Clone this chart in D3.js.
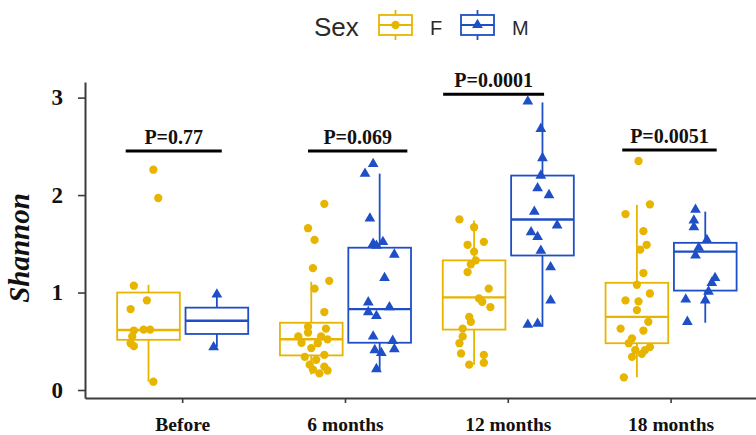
<!DOCTYPE html>
<html>
<head>
<meta charset="utf-8">
<script src="https://cdn.jsdelivr.net/npm/d3@7"></script>
<style>
  html, body { margin: 0; padding: 0; background: #fff; }
  svg { display: block; }
</style>
</head>
<body>
<svg id="chart" width="756" height="435"></svg>
<script>
// Time points along the x axis
const timepoints = ["Before", "6 months", "12 months", "18 months"];
const sexes = ["F", "M"];

// Box summaries per time point: [lower whisker, Q1, median, Q3, upper whisker]
const boxF = [
  [0.085, 0.515, 0.615, 1.00, 1.08],
  [0.16, 0.355, 0.52, 0.69, 1.11],
  [0.26, 0.62, 0.95, 1.33, 1.74],
  [0.13, 0.48, 0.75, 1.10, 1.90]
];
const boxM = [
  [0.44, 0.575, 0.71, 0.845, 0.98],
  [0.20, 0.485, 0.83, 1.46, 2.22],
  [0.65, 1.38, 1.75, 2.20, 2.95],
  [0.69, 1.02, 1.42, 1.51, 1.83]
];

// Individual Shannon values as [value, jitter (fraction of a category step)]
const pointsF = [
  [[2.26, 0.03], [1.97, 0.06], [1.07, -0.09], [0.92, -0.01], [0.83, -0.11],
   [0.61, -0.09], [0.62, -0.03], [0.62, 0.01], [0.55, -0.10], [0.48, -0.11],
   [0.45, -0.09], [0.085, 0.03]],
  [[1.91, 0.08], [1.66, -0.02], [1.54, 0.02], [1.25, 0.01], [1.12, 0.11],
   [1.04, 0.02], [0.80, 0.08], [0.65, -0.02], [0.63, 0.09], [0.59, -0.02],
   [0.55, -0.08], [0.55, 0.06], [0.52, 0.10], [0.485, -0.06], [0.48, 0.04],
   [0.43, 0.00], [0.36, 0.08], [0.34, -0.04], [0.31, 0.03], [0.26, -0.01],
   [0.24, 0.08], [0.21, 0.01], [0.20, 0.10], [0.17, 0.05]],
  [[1.75, -0.09], [1.67, 0.00], [1.52, 0.06], [1.49, -0.04], [1.42, 0.00],
   [1.33, 0.01], [1.29, -0.02], [1.21, -0.04], [1.04, 0.09], [0.94, 0.03],
   [0.905, 0.05], [0.85, 0.10], [0.75, -0.03], [0.70, -0.02], [0.63, -0.07],
   [0.55, -0.07], [0.48, -0.09], [0.375, -0.08], [0.36, 0.06], [0.28, 0.06],
   [0.26, -0.03]],
  [[2.35, 0.01], [1.905, 0.08], [1.805, -0.07], [1.63, 0.04], [1.49, 0.06],
   [1.44, 0.02], [1.20, 0.04], [1.08, 0.00], [0.99, 0.08], [0.92, -0.07],
   [0.91, 0.01], [0.82, 0.00], [0.70, 0.07], [0.63, -0.10], [0.61, 0.04],
   [0.53, -0.03], [0.48, -0.05], [0.44, 0.08], [0.41, -0.01], [0.41, 0.05],
   [0.37, 0.03], [0.34, -0.03], [0.13, -0.08]]
];
const pointsM = [
  [[0.98, 0.00], [0.44, -0.02]],
  [[2.32, -0.04], [2.22, -0.09], [1.76, -0.06], [1.50, -0.04], [1.52, 0.02],
   [1.48, -0.02], [1.39, 0.09], [1.15, 0.03], [0.90, -0.07], [0.80, -0.07],
   [0.76, -0.02], [0.85, 0.06], [0.55, -0.04], [0.505, 0.08], [0.42, 0.09],
   [0.41, -0.03], [0.38, 0.01], [0.215, -0.02]],
  [[2.96, -0.09], [2.68, -0.01], [2.38, 0.00], [2.20, -0.01], [2.07, -0.03],
   [2.00, 0.04], [1.83, -0.05], [1.69, 0.09], [1.62, -0.07], [1.57, -0.03],
   [1.43, -0.01], [1.26, 0.05], [0.92, 0.05], [0.67, -0.09], [0.68, -0.03]],
  [[1.85, -0.06], [1.74, -0.07], [1.67, -0.07], [1.54, 0.01], [1.46, -0.04],
   [1.38, -0.06], [1.15, 0.06], [1.10, 0.04], [1.01, 0.02], [0.92, 0.00],
   [0.93, -0.12], [0.70, -0.11]]
];

// Comparison labels: p-value text, segment ends (category units, 1-based) and height
const pLabels = ["P=0.77", "P=0.069", "P=0.0001", "P=0.0051"];
const pStart = [0.65, 1.77, 2.60, 3.70];
const pEnd = [1.24, 2.38, 3.22, 4.28];
const pHeight = [2.452, 2.452, 3.034, 2.462];

const yTicks = [0, 1, 2, 3];

const colF = "#E7B500";
const colM = "#1F4FC6";
const serif = "'Liberation Serif', 'Times New Roman', serif";
const sans = "'Liberation Sans', Arial, sans-serif";

const svg = d3.select("#chart");
svg.append("rect").attr("width", 756).attr("height", 435).attr("fill", "#fff");

const plotLeft = 85, plotBottom = 398, plotTop = 82;
const x = d3.scaleBand().domain(timepoints)
  .range([plotLeft, plotLeft + 4.2 * 162.8]).paddingInner(0).paddingOuter(0.1);
const step = x.step();
const xc = d => x(d) + x.bandwidth() / 2;
const xCat = u => x(timepoints[0]) + x.bandwidth() / 2 + (u - 1) * step;
const y = d3.scaleLinear().domain([-0.082, 3.16]).range([plotBottom, plotTop]);

const dodge = 0.21 * step;
const boxW = 0.385 * step;
const circleSize = 54, triSize = 50;

// Boxes, whiskers and points per sex
function drawGroup(boxes, points, color, sign, isTri) {
  const g = svg.append("g");
  timepoints.forEach((t, i) => {
    const cx = xc(t) + sign * dodge;
    const [lo, q1, med, q3, hi] = boxes[i];
    const gg = g.append("g").attr("stroke", color).attr("fill", "none");
    gg.append("line").attr("x1", cx).attr("x2", cx).attr("y1", y(q3)).attr("y2", y(hi)).attr("stroke-width", 1.8);
    gg.append("line").attr("x1", cx).attr("x2", cx).attr("y1", y(q1)).attr("y2", y(lo)).attr("stroke-width", 1.8);
    gg.append("rect").attr("x", cx - boxW / 2).attr("y", y(q3))
      .attr("width", boxW).attr("height", y(q1) - y(q3)).attr("stroke-width", 1.8);
    gg.append("line").attr("x1", cx - boxW / 2).attr("x2", cx + boxW / 2)
      .attr("y1", y(med)).attr("y2", y(med)).attr("stroke-width", 2.4);
  });
  timepoints.forEach((t, i) => {
    const cx = xc(t) + sign * dodge;
    const sym = d3.symbol().type(isTri ? d3.symbolTriangle : d3.symbolCircle).size(isTri ? triSize : circleSize);
    g.selectAll(null).data(points[i]).enter().append("path")
      .attr("d", sym)
      .attr("transform", d => `translate(${cx + d[1] * step},${y(d[0])})`)
      .attr("fill", color);
  });
}
drawGroup(boxF, pointsF, colF, -1, false);
drawGroup(boxM, pointsM, colM, 1, true);

// Axes
const yAxis = svg.append("g").attr("transform", `translate(${plotLeft},0)`)
  .call(d3.axisLeft(y).tickValues(yTicks).tickFormat(d3.format("d")).tickSize(7).tickSizeOuter(0).tickPadding(15));
const xAxis = svg.append("g").attr("transform", `translate(0,${plotBottom})`)
  .call(d3.axisBottom(x).tickSize(5).tickSizeOuter(0).tickPadding(14));
[yAxis, xAxis].forEach(a => {
  a.select(".domain").attr("stroke", "#3c3c3c").attr("stroke-width", 2);
  a.selectAll(".tick line").attr("stroke", "#3c3c3c").attr("stroke-width", 1.6);
  a.selectAll("text").attr("fill", "#111").attr("font-family", serif).attr("font-weight", "bold");
});
yAxis.selectAll("text").attr("font-size", 23);
xAxis.selectAll("text").attr("font-size", 19.5);

svg.append("text")
  .attr("transform", "translate(29,248) rotate(-90)")
  .attr("text-anchor", "middle")
  .attr("font-family", serif).attr("font-weight", "bold").attr("font-style", "italic")
  .attr("font-size", 29).attr("fill", "#111")
  .text("Shannon");

// P-value annotations
timepoints.forEach((t, i) => {
  const x1 = xCat(pStart[i]), x2 = xCat(pEnd[i]);
  svg.append("line").attr("x1", x1).attr("x2", x2)
    .attr("y1", y(pHeight[i])).attr("y2", y(pHeight[i]))
    .attr("stroke", "#000").attr("stroke-width", 3);
  svg.append("text").attr("x", (x1 + x2) / 2).attr("y", y(pHeight[i]) - 7)
    .attr("text-anchor", "middle").attr("font-family", serif).attr("font-weight", "bold")
    .attr("font-size", 20).attr("fill", "#111").text(pLabels[i]);
});

// Legend
const lg = svg.append("g");
lg.append("text").attr("x", 314).attr("y", 36).attr("font-family", sans)
  .attr("font-size", 26).attr("fill", "#2a2a2a").text("Sex");
const keyX = [379, 461];
const labX = [430, 512];
sexes.forEach((s, i) => {
  const color = i === 0 ? colF : colM;
  const kx = keyX[i], kw = 33, cx = kx + kw / 2;
  const k = lg.append("g").attr("stroke", color).attr("fill", "none").attr("stroke-width", 1.8);
  k.append("line").attr("x1", cx).attr("x2", cx).attr("y1", 10).attr("y2", 15);
  k.append("line").attr("x1", cx).attr("x2", cx).attr("y1", 35).attr("y2", 40);
  k.append("rect").attr("x", kx).attr("y", 15).attr("width", kw).attr("height", 20);
  k.append("line").attr("x1", kx).attr("x2", kx + kw).attr("y1", 25).attr("y2", 25);
  lg.append("path")
    .attr("d", d3.symbol().type(i === 0 ? d3.symbolCircle : d3.symbolTriangle).size(i === 0 ? circleSize : triSize))
    .attr("transform", `translate(${cx},25)`).attr("fill", color);
  lg.append("text").attr("x", labX[i]).attr("y", 35).attr("font-family", sans)
    .attr("font-size", 20).attr("fill", "#2a2a2a").text(s);
});
</script>
</body>
</html>
